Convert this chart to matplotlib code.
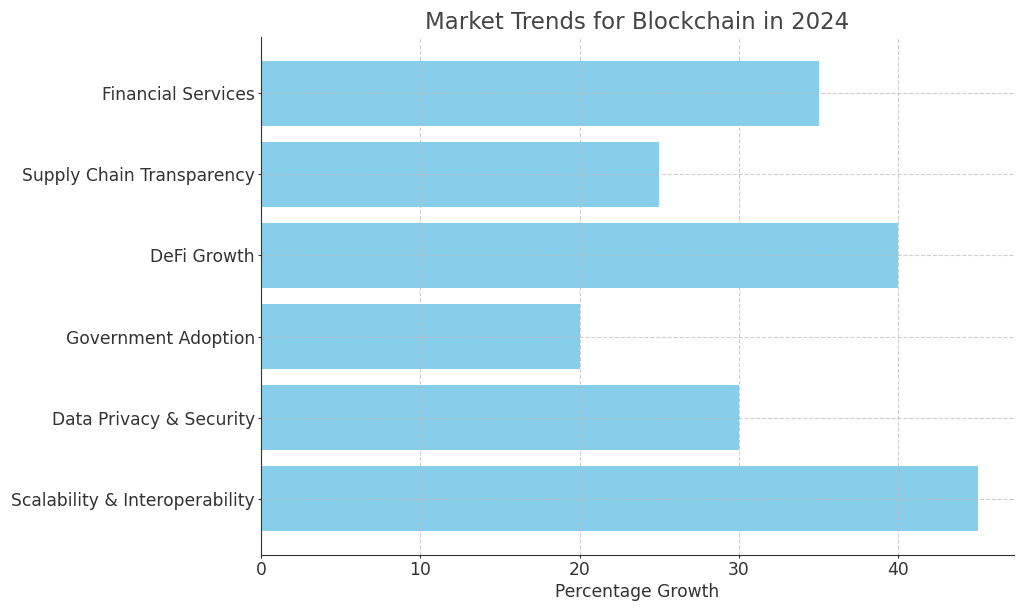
import matplotlib
matplotlib.use('Agg')
import matplotlib.pyplot as plt

# data, top to bottom as shown
categories = ['Financial Services', 'Supply Chain Transparency', 'DeFi Growth',
              'Government Adoption', 'Data Privacy & Security',
              'Scalability & Interoperability']
growth = [35, 25, 40, 20, 30, 45]

plt.rcParams['text.color'] = '#333333'
plt.rcParams['axes.labelcolor'] = '#333333'
plt.rcParams['xtick.color'] = '#333333'
plt.rcParams['ytick.color'] = '#333333'
plt.rcParams['axes.edgecolor'] = '#333333'

fig, ax = plt.subplots(figsize=(10.24, 6.11), dpi=100)
fig.subplots_adjust(left=0.255, right=0.990, top=0.9394, bottom=0.0917)

# reverse so first category ends up on top
ax.barh(categories[::-1], growth[::-1], color='skyblue', height=0.8)

ax.set_title('Market Trends for Blockchain in 2024', fontsize=16.5, color='#444444')
ax.set_xlabel('Percentage Growth', fontsize=12.3, labelpad=2.5)
ax.tick_params(axis='both', labelsize=12.3, length=2.5, pad=2)

ax.grid(True, linestyle='--', color='#bbbbbb', alpha=0.7, linewidth=0.8)
ax.spines['top'].set_visible(False)
ax.spines['right'].set_visible(False)

#save
fig.savefig('out.png', dpi=100)
